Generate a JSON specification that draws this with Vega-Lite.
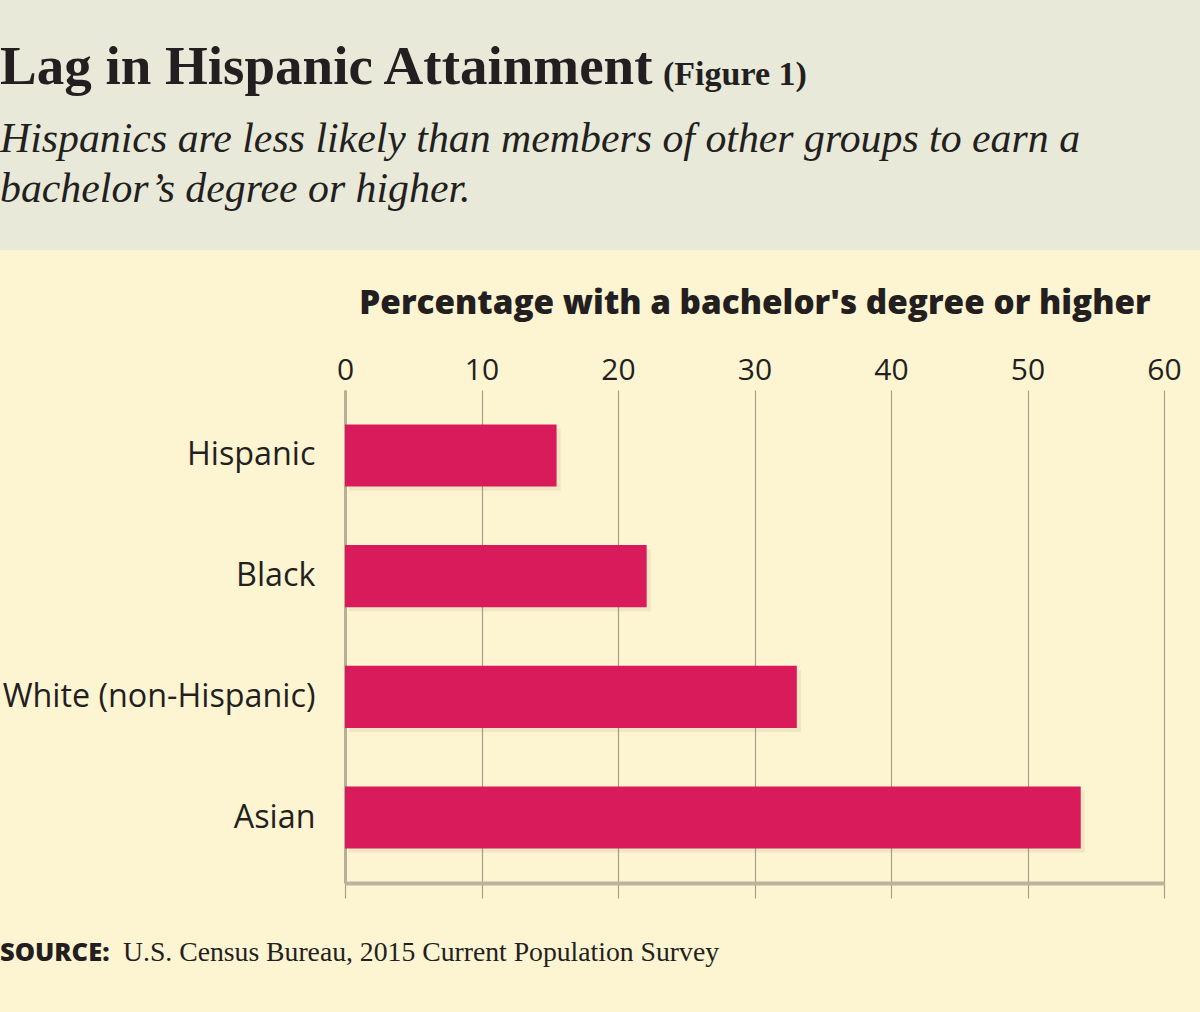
{
  "$schema": "https://vega.github.io/schema/vega-lite/v6.json",
  "background": "#fdf4d2",
  "padding": 0,
  "spacing": 36,
  "config": {"view": {"stroke": null}},
  "vconcat": [
    {
      "width": 1200,
      "height": 250,
      "view": {"fill": "#e8e9d8", "stroke": null},
      "title": {
        "text": "Lag in Hispanic Attainment",
        "subtitle": ["Hispanics are less likely than members of other groups to earn a", "bachelor’s degree or higher."],
        "anchor": "start",
        "frame": "group",
        "offset": -212,
        "font": "Liberation Serif",
        "fontSize": 55,
        "fontWeight": "bold",
        "color": "#231f20",
        "subtitleFont": "Liberation Serif",
        "subtitleFontStyle": "italic",
        "subtitleFontSize": 41.8,
        "subtitleColor": "#231f20",
        "subtitleLineHeight": 50,
        "subtitlePadding": 23
      },
      "data": {"values": [{"t": "(Figure 1)"}]},
      "mark": {"type": "text", "align": "left", "baseline": "alphabetic", "font": "Liberation Serif", "fontSize": 34, "fontWeight": "bold", "color": "#231f20"},
      "encoding": {
        "text": {"field": "t", "type": "nominal"},
        "x": {"value": 663},
        "y": {"value": 85}
      }
    },
    {
      "width": 1200,
      "height": 493,
      "data": {"values": [
        {"group": "Hispanic", "pct": 15.5},
        {"group": "Black", "pct": 22.1},
        {"group": "White (non-Hispanic)", "pct": 33.1},
        {"group": "Asian", "pct": 53.9}
      ]},
      "encoding": {
        "y": {
          "field": "group", "type": "nominal", "sort": null,
          "scale": {"paddingInner": 0.486, "paddingOuter": 0.285},
          "axis": {
            "title": null, "ticks": false, "tickSize": 0, "labelLimit": 0, "offset": -345,
            "labelFont": "Open Sans", "labelFontSize": 32.3, "labelFontWeight": 500, "labelColor": "#231f20", "labelPadding": 30,
            "domain": true, "domainColor": "#b9ae96", "domainWidth": 3
          }
        }
      },
      "layer": [
        {
          "mark": {"type": "bar", "color": "#7a6a3a", "opacity": 0.1, "xOffset": 4, "yOffset": 4},
          "encoding": {"x": {"field": "pct", "type": "quantitative", "scale": {"domain": [0, 60], "range": [345, 1164]}, "axis": null}}
        },
        {
          "mark": {"type": "bar", "color": "#d91b5b"},
          "encoding": {"x": {"field": "pct", "type": "quantitative", "scale": {"domain": [0, 60], "range": [345, 1164]},
            "axis": {
              "orient": "top", "values": [0, 10, 20, 30, 40, 50, 60], "labelFlush": false,
              "title": "Percentage with a bachelor's degree or higher",
              "titleFont": "Open Sans", "titleFontSize": 33.3, "titleFontWeight": 800, "titleColor": "#231f20", "titlePadding": 35,
              "labelFont": "Open Sans", "labelFontSize": 30, "labelColor": "#231f20", "labelPadding": 5,
              "ticks": false, "domain": false,
              "grid": true, "gridColor": "#a89f88", "gridWidth": 1.2
            }}}
        },
        {
          "mark": {"type": "bar", "opacity": 0},
          "encoding": {"x": {"field": "pct", "type": "quantitative", "scale": {"domain": [0, 60], "range": [345, 1164]},
            "axis": {
              "orient": "bottom", "values": [0, 10, 20, 30, 40, 50, 60], "labels": false, "title": null,
              "ticks": true, "tickSize": 15, "tickColor": "#a89f88", "tickWidth": 1.2,
              "domain": true, "domainColor": "#bdb29b", "domainWidth": 4, "grid": false
            }}}
        }
      ],
      "resolve": {"axis": {"x": "independent"}}
    },
    {
      "width": 1200,
      "height": 100,
      "data": {"values": [{"label": "SOURCE:", "rest": "U.S. Census Bureau, 2015 Current Population Survey"}]},
      "layer": [
        {
          "mark": {"type": "text", "align": "left", "baseline": "alphabetic", "font": "Open Sans", "fontSize": 25.5, "fontWeight": 800, "color": "#231f20"},
          "encoding": {"text": {"field": "label", "type": "nominal"}, "x": {"value": 0}, "y": {"value": 26}}
        },
        {
          "mark": {"type": "text", "align": "left", "baseline": "alphabetic", "font": "Liberation Serif", "fontSize": 27.7, "color": "#231f20"},
          "encoding": {"text": {"field": "rest", "type": "nominal"}, "x": {"value": 123}, "y": {"value": 26}}
        }
      ]
    }
  ]
}
